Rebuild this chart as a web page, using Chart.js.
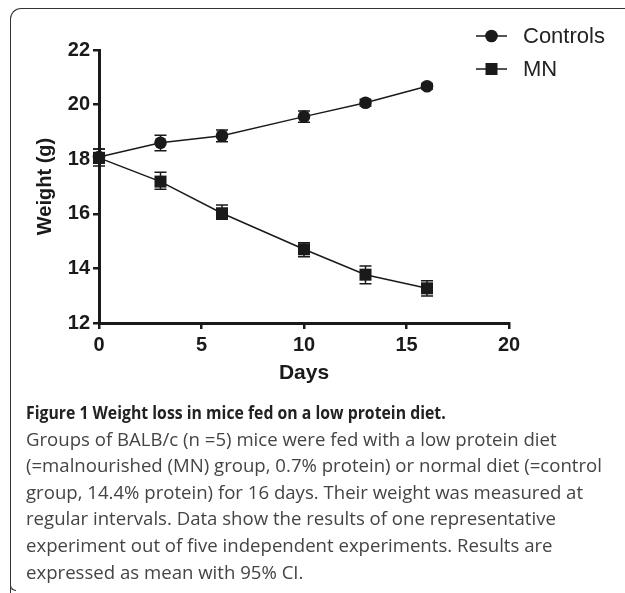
<!DOCTYPE html>
<html>
<head>
<meta charset="utf-8">
<script src="https://cdn.jsdelivr.net/npm/chart.js@4/dist/chart.umd.min.js"></script>
<style>
  html, body { margin:0; padding:0; background:#fff; }
  #wrap { position:relative; width:625px; height:593px; overflow:hidden; background:#fff; }
  #frame { position:absolute; left:10px; top:8px; width:700px; height:600px;
           border-left:1.5px solid #333; border-top:1.5px solid #333; border-top-left-radius:11px; }
  #hook { position:absolute; left:10px; top:578px; width:5px; height:12px;
          border-left:1.5px solid #333; border-bottom:1.5px solid #333; border-bottom-left-radius:6px; background:#fff; }
  #chartBox { position:absolute; left:0; top:0; width:625px; height:400px; }
  .leg { position:absolute; left:476px; height:26px; display:flex; align-items:center;
         font-family:"Liberation Sans", Arial, sans-serif; font-size:22px; color:#222; }
  .leg svg { margin-right:16px; }
  #caption { position:absolute; left:26px; top:399px; font-family:"Open Sans", sans-serif;
             font-size:18.6px; line-height:26.6px; color:#444; white-space:nowrap; }
  #caption b { display:inline-block; color:#222; font-weight:700; transform:scaleX(0.85); transform-origin:0 50%; }
</style>
</head>
<body>
<div id="wrap">
  <div id="frame"></div>
  <div id="hook"></div>
  <div id="chartBox"><canvas id="c" width="625" height="400"></canvas></div>
  <div class="leg" style="top:23px;"><svg width="31" height="14"><line x1="0" y1="7" x2="31" y2="7" stroke="#1a1a1a" stroke-width="1.5"/><circle cx="15.5" cy="7" r="6.3" fill="#1a1a1a"/></svg><span id="leg0"></span></div>
  <div class="leg" style="top:56px;"><svg width="31" height="14"><line x1="0" y1="7" x2="31" y2="7" stroke="#1a1a1a" stroke-width="1.5"/><rect x="9.5" y="1" width="12" height="12" fill="#1a1a1a"/></svg><span id="leg1"></span></div>
  <div id="caption"><b>Figure 1 Weight loss in mice fed on a low protein diet.</b><br>Groups of BALB/c (n =5) mice were fed with a low protein diet<br>(=malnourished (MN) group, 0.7% protein) or normal diet (=control<br>group, 14.4% protein) for 16 days. Their weight was measured at<br>regular intervals. Data show the results of one representative<br>experiment out of five independent experiments. Results are<br>expressed as mean with 95% CI.</div>
</div>
<script>
// ---- data ----
const seriesNames = ["Controls", "MN"];
const days = [0, 3, 6, 10, 13, 16];
const controlsMean = [18.08, 18.6, 18.86, 19.56, 20.07, 20.67];
const controlsLow  = [17.85, 18.31, 18.64, 19.35, 19.95, 20.57];
const controlsHigh = [18.37, 18.88, 19.07, 19.77, 20.19, 20.77];
const mnMean = [18.05, 17.18, 16.02, 14.7, 13.77, 13.27];
const mnLow  = [17.75, 16.9, 15.8, 14.43, 13.44, 12.99];
const mnHigh = [18.37, 17.52, 16.32, 14.94, 14.09, 13.55];
const xTicks = [0, 5, 10, 15, 20];
const yTicks = [12, 14, 16, 18, 20, 22];
const xTitle = "Days";
const yTitle = "Weight (g)";

document.getElementById('leg0').textContent = seriesNames[0];
document.getElementById('leg1').textContent = seriesNames[1];

const ink = '#1a1a1a';
const toPts = (ys) => days.map((d, i) => ({ x: d, y: ys[i] }));

const errorBars = {
  id: 'errorBars',
  beforeDatasetsDraw(chart) {
    const ctx = chart.ctx, xs = chart.scales.x, ys = chart.scales.y;
    ctx.save();
    ctx.strokeStyle = ink;
    ctx.lineWidth = 1.5;
    chart.data.datasets.forEach(ds => {
      ds.data.forEach((p, i) => {
        const px = xs.getPixelForValue(p.x);
        const lo = ys.getPixelForValue(ds.errLow[i]);
        const hi = ys.getPixelForValue(ds.errHigh[i]);
        ctx.beginPath();
        ctx.moveTo(px, lo); ctx.lineTo(px, hi);
        ctx.moveTo(px - 6, lo); ctx.lineTo(px + 6, lo);
        ctx.moveTo(px - 6, hi); ctx.lineTo(px + 6, hi);
        ctx.stroke();
      });
    });
    ctx.restore();
  }
};

const fam = '"Liberation Sans", Arial, sans-serif';
const tickFont = { family: fam, size: 20, weight: 'bold' };
const axisBase = {
  type: 'linear',
  border: { display: true, color: ink, width: 3 },
  grid: { display: true, drawOnChartArea: false, drawTicks: true, tickLength: 6, tickWidth: 2.5, lineWidth: 2.5, tickColor: ink, color: ink },
};

new Chart(document.getElementById('c'), {
  type: 'line',
  data: {
    datasets: [
      { label: seriesNames[0], data: toPts(controlsMean), errLow: controlsLow, errHigh: controlsHigh,
        borderColor: ink, backgroundColor: ink, borderWidth: 1.5, pointStyle: 'circle', pointRadius: 6.3,
        pointBorderWidth: 0, pointBackgroundColor: ink, clip: false, tension: 0 },
      { label: seriesNames[1], data: toPts(mnMean), errLow: mnLow, errHigh: mnHigh,
        borderColor: ink, backgroundColor: ink, borderWidth: 1.5, pointStyle: 'rect', pointRadius: 8.5,
        pointBorderWidth: 0, pointBackgroundColor: ink, clip: false, tension: 0 }
    ]
  },
  options: {
    responsive: false,
    animation: false,
    events: [],
    layout: { padding: { left: 0, top: 50, right: 116, bottom: 0 } },
    plugins: { legend: { display: false }, tooltip: { enabled: false } },
    scales: {
      x: Object.assign({}, axisBase, {
        min: 0, max: 20,
        afterBuildTicks: (s) => { s.ticks = xTicks.map(v => ({ value: v })); },
        ticks: { color: ink, font: tickFont, padding: 4, maxRotation: 0 },
        title: { display: true, text: xTitle, color: ink,
                 font: { family: fam, size: 21, weight: 'bold' },
                 padding: { top: 0, bottom: 14 } },
        afterFit: (s) => { s.height = 77; }
      }),
      y: Object.assign({}, axisBase, {
        min: 12, max: 22,
        afterBuildTicks: (s) => { s.ticks = yTicks.map(v => ({ value: v })); },
        ticks: { color: ink, font: tickFont, padding: 3 },
        title: { display: true, text: yTitle, color: ink,
                 font: { family: fam, size: 20, weight: 'bold' },
                 padding: { top: 33, bottom: 0 } },
        afterFit: (s) => { s.width = 99; }
      })
    }
  },
  plugins: [errorBars]
});
</script>
</body>
</html>
